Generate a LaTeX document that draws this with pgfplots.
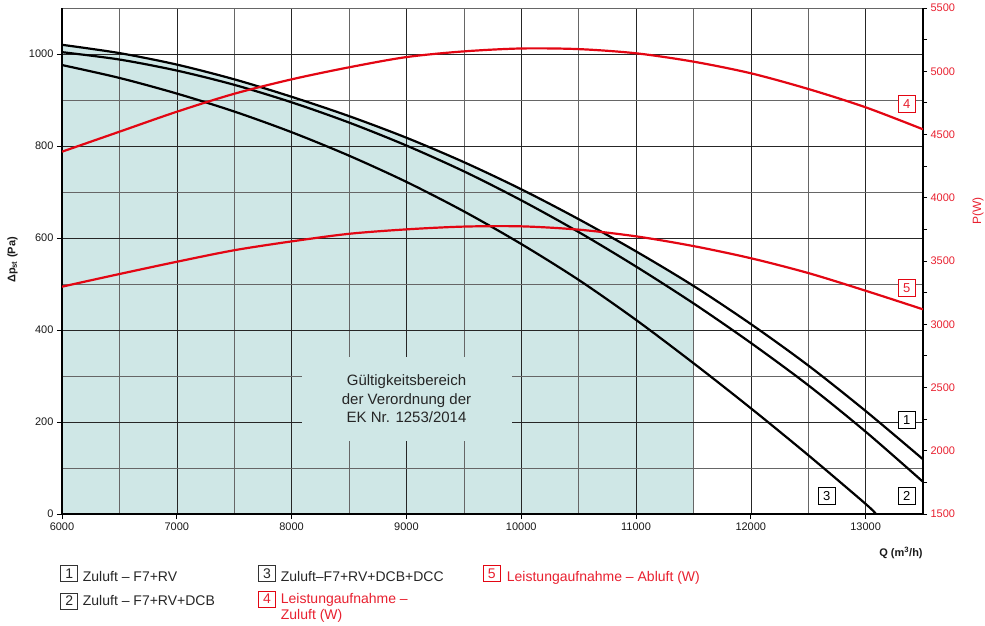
\documentclass[border=0pt]{standalone}
\usepackage{fontspec}
\setmainfont{Liberation Sans}
\usepackage{pgfplots}
\pgfplotsset{compat=1.18}
\definecolor{shade}{HTML}{CFE7E6}
\definecolor{myred}{HTML}{E30613}
\definecolor{txtred}{HTML}{E8202F}
\newcommand\tickfont{\fontsize{11}{12}\selectfont}
\newcommand\legfont{\fontsize{14}{16}\selectfont}
\newcommand\boxfont{\fontsize{13}{15}\selectfont}

\begin{document}
\begin{tikzpicture}
\begin{axis}[
  set layers,
  at={(0,0)}, anchor=south west,
  scale only axis, width=861pt, height=506pt,
  xmin=6000, xmax=13500, ymin=0, ymax=1100,
  axis x line*=bottom, axis y line*=left,
  axis line style={line width=1.5pt, black, -},
  xtick={6000,7000,...,13000}, minor xtick={6500,7500,...,13000},
  ytick={0,200,...,1000}, minor ytick={100,300,...,1100},
  scaled x ticks=false, scaled y ticks=false,
  grid=both,
  major grid style={black!85, line width=0.6pt},
  minor grid style={black!60, line width=0.6pt},
  tick align=outside, major tick length=5pt, minor tick length=0pt,
  tick style={black, line width=0.8pt},
  /pgf/number format/assume math mode=true,
  /pgf/number format/1000 sep={},
  ticklabel style={font=\tickfont, text=black!90},
]
\addplot[fill=shade, draw=none, on layer=axis background] coordinates {
(6000,1020) (6500,1002) (7000,977) (7500,945) (8000,907) (8500,865) (9000,818)
(9500,765) (10000,706) (10500,641) (11000,571) (11500,496)
} \closedcycle;

\addplot[black, line width=2.2pt, smooth] coordinates {
(6000,1020) (6500,1002) (7000,977) (7500,945) (8000,907) (8500,865) (9000,818)
(9500,765) (10000,706) (10500,641) (11000,571) (11500,496) (12000,413)
(12500,323) (13000,224) (13500,119)
};
\addplot[black, line width=2.2pt, smooth] coordinates {
(6000,1004) (6500,988) (7000,964) (7500,933) (8000,895) (8500,851) (9000,801)
(9500,745) (10000,682) (10500,613) (11000,538) (11500,458) (12000,372)
(12500,280) (13000,179) (13500,70)
};
\addplot[black, line width=2.2pt, smooth] coordinates {
(6000,976) (6500,948) (7000,914) (7500,875) (8000,830) (8500,779) (9000,722)
(9500,658) (10000,587) (10500,509) (11000,422) (11500,328) (12000,230)
(12500,128) (13000,22) (13090,0)
};

\node[fill=shade, minimum width=210pt, minimum height=84pt, align=center,
      font=\fontsize{15}{18.7}\selectfont, text=black!85]
      at (axis cs:9001,250.7) {Gültigkeitsbereich\\der Verordnung der\\EK Nr. 1253/2014};

\node[draw=black, fill=white, line width=0.6pt, minimum size=17pt, inner sep=0pt, font=\boxfont] at (axis cs:13358,205) {1};
\node[draw=black, fill=white, line width=0.6pt, minimum size=17pt, inner sep=0pt, font=\boxfont] at (axis cs:13358,39) {2};
\node[draw=black, fill=white, line width=0.6pt, minimum size=17pt, inner sep=0pt, font=\boxfont] at (axis cs:12662,39) {3};
\node[draw=myred, fill=white, line width=0.6pt, minimum size=17pt, inner sep=0pt, font=\boxfont, text=txtred] at (axis cs:13358,892) {4};
\node[draw=myred, fill=white, line width=0.6pt, minimum size=17pt, inner sep=0pt, font=\boxfont, text=txtred] at (axis cs:13358,492) {5};
\end{axis}

\begin{axis}[
  set layers,
  at={(0,0)}, anchor=south west,
  scale only axis, width=861pt, height=506pt,
  xmin=6000, xmax=13500, ymin=1500, ymax=5500,
  axis x line=none, axis y line*=right,
  axis line style={line width=1.5pt, black, -},
  ytick={1500,2000,...,5500}, minor ytick={1750,2250,...,5250},
  scaled y ticks=false,
  tick align=outside, major tick length=4pt, minor tick length=4pt,
  tick style={black, line width=0.8pt},
  /pgf/number format/assume math mode=true,
  /pgf/number format/1000 sep={},
  yticklabel style={font=\tickfont, text=txtred},
]
\addplot[myred, line width=2.2pt, smooth] coordinates {
(6000,4364) (6500,4522) (7000,4680) (7500,4822) (8000,4936) (8500,5031)
(9000,5112) (9500,5157) (10000,5180) (10500,5175) (11000,5142) (11500,5076)
(12000,4984) (12500,4860) (13000,4715) (13500,4541)
};
\addplot[myred, line width=2.2pt, smooth] coordinates {
(6000,3297) (6500,3397) (7000,3494) (7500,3585) (8000,3655) (8500,3715)
(9000,3750) (9500,3772) (10000,3774) (10500,3748) (11000,3695) (11500,3618)
(12000,3522) (12500,3405) (13000,3265) (13500,3118)
};
\end{axis}

% axis titles
\node[rotate=90, font=\bfseries\fontsize{11}{13}\selectfont, text=black!90] at (-49.5pt,254pt) {Δp\textsubscript{st} (Pa)};
\node[font=\bfseries\fontsize{11}{13}\selectfont, text=black!90] at (839pt,-39pt) {Q (m\textsuperscript{3}/h)};
\node[rotate=90, font=\fontsize{12}{14}\selectfont, text=txtred] at (916pt,303pt) {P(W)};

% legend
\node[draw=black!80, line width=0.6pt, minimum width=17pt, minimum height=16pt, inner sep=0pt, font=\legfont, text=black!85] at (7.2pt,-59.7pt) {1};
\node[anchor=base west, inner sep=0pt, font=\legfont, text=black!85] at (20.7pt,-67pt) {Zuluft – F7+RV};
\node[draw=black!80, line width=0.6pt, minimum width=17pt, minimum height=16pt, inner sep=0pt, font=\legfont, text=black!85] at (7.2pt,-87pt) {2};
\node[anchor=base west, inner sep=0pt, font=\legfont, text=black!85] at (20.7pt,-91pt) {Zuluft – F7+RV+DCB};
\node[draw=black!80, line width=0.6pt, minimum width=17pt, minimum height=16pt, inner sep=0pt, font=\legfont, text=black!85] at (205pt,-59.7pt) {3};
\node[anchor=base west, inner sep=0pt, font=\legfont, text=black!85] at (218.7pt,-67pt) {Zuluft–F7+RV+DCB+DCC};
\node[draw=myred, line width=0.6pt, minimum width=17pt, minimum height=16pt, inner sep=0pt, font=\legfont, text=txtred] at (205pt,-85pt) {4};
\node[anchor=base west, inner sep=0pt, font=\legfont, text=txtred] at (218.7pt,-89.3pt) {Leistungaufnahme –};
\node[anchor=base west, inner sep=0pt, font=\legfont, text=txtred] at (218.7pt,-105.3pt) {Zuluft (W)};
\node[draw=myred, line width=0.6pt, minimum width=17pt, minimum height=16pt, inner sep=0pt, font=\legfont, text=txtred] at (429.7pt,-59.7pt) {5};
\node[anchor=base west, inner sep=0pt, font=\legfont, text=txtred] at (444.7pt,-67pt) {Leistungaufnahme – Abluft (W)};

\pgfresetboundingbox
\path[use as bounding box] (-62pt,-111pt) rectangle (923pt,514pt);
\end{tikzpicture}
\end{document}
